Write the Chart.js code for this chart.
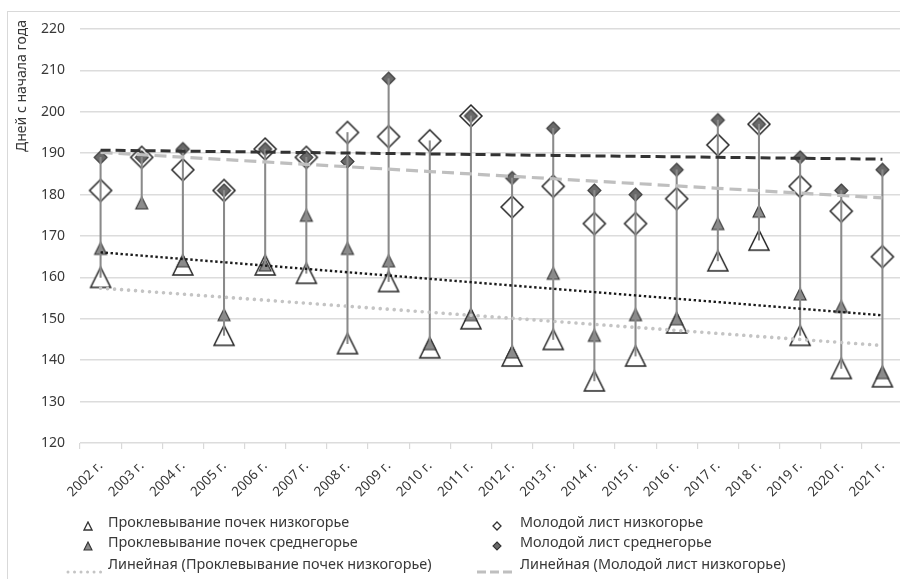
<!DOCTYPE html>
<html>
<head>
<meta charset="utf-8">
<script src="https://cdn.jsdelivr.net/npm/chart.js@4.4.0/dist/chart.umd.min.js"></script>
<style>
  html, body { margin: 0; padding: 0; width: 900px; height: 579px; overflow: hidden; background: #fff; }
  #frame { position: absolute; left: 7px; top: 11px; width: 1000px; height: 1000px; border: 1px solid #d9d9d9; box-sizing: border-box; }
  #wrap { position: absolute; left: 0; top: 0; width: 930px; height: 579px; }
  .lg { position: absolute; font-family: "Noto Sans", sans-serif; font-size: 14.4px; color: #383838; line-height: 20px; white-space: nowrap; }
  .mk { position: absolute; }
</style>
</head>
<body>
<div id="frame"></div>
<div id="wrap"><canvas id="c" width="930" height="579"></canvas></div>
<div id="legend"></div>
<script>
// ---- data ----
const years = ['2002 г.','2003 г.','2004 г.','2005 г.','2006 г.','2007 г.','2008 г.','2009 г.','2010 г.','2011 г.',
               '2012 г.','2013 г.','2014 г.','2015 г.','2016 г.','2017 г.','2018 г.','2019 г.','2020 г.','2021 г.'];
const budsLow  = [160, null, 163, 146, 163, 161, 144, 159, 143, 150, 141, 145, 135, 141, 149, 164, 169, 146, 138, 136];
const budsMid  = [167, 178, 164, 151, 163, 175, 167, 164, 144, 151, 142, 161, 146, 151, 150, 173, 176, 156, 153, 137];
const leafLow  = [181, 189, 186, 181, 191, 189, 195, 194, 193, 199, 177, 182, 173, 173, 179, 192, 197, 182, 176, 165];
const leafMid  = [189, 189, 191, 181, 191, 189, 188, 208, null, 199, 184, 196, 181, 180, 186, 198, 197, 189, 181, 186];
const yTicks   = [120, 130, 140, 150, 160, 170, 180, 190, 200, 210, 220];
const yTitle   = 'Дней с начала года';
const names = {
  budsLow: 'Проклевывание почек низкогорье',
  budsMid: 'Проклевывание почек среднегорье',
  leafLow: 'Молодой лист низкогорье',
  leafMid: 'Молодой лист среднегорье',
  trendBudsLow: 'Линейная (Проклевывание почек низкогорье)',
  trendLeafLow: 'Линейная (Молодой лист низкогорье)'
};

// linear trend (least squares over category index, blanks skipped) — as the spreadsheet does
function linTrend(arr) {
  const pts = arr.map((v, i) => [i + 1, v]).filter(p => p[1] !== null);
  const n = pts.length;
  const mx = pts.reduce((s, p) => s + p[0], 0) / n;
  const my = pts.reduce((s, p) => s + p[1], 0) / n;
  let sxy = 0, sxx = 0;
  pts.forEach(p => { sxy += (p[0] - mx) * (p[1] - my); sxx += (p[0] - mx) ** 2; });
  const b = sxy / sxx, a = my - b * mx;
  return arr.map((_, i) => a + b * (i + 1));
}
// high-low lines: from lowest to highest value of each year
const hiLo = years.map((_, i) => {
  const v = [budsLow[i], budsMid[i], leafLow[i], leafMid[i]].filter(x => x !== null);
  return [Math.min(...v), Math.max(...v)];
});

// ---- markers ----
function marker(kind, s, fill, stroke, lw) {
  const pad = 3, cv = document.createElement('canvas');
  cv.width = cv.height = Math.ceil(s + pad * 2);
  const c = cv.getContext('2d'), m = cv.width / 2, h = s / 2;
  c.beginPath();
  if (kind === 'tri') { c.moveTo(m - h, m + h); c.lineTo(m, m - h); c.lineTo(m + h, m + h); }
  else { c.moveTo(m, m - h); c.lineTo(m + h, m); c.lineTo(m, m + h); c.lineTo(m - h, m); }
  c.closePath();
  c.fillStyle = fill; c.fill();
  c.lineWidth = lw; c.strokeStyle = stroke; c.lineJoin = 'miter'; c.stroke();
  return cv;
}
const mA = marker('tri', 20, '#ffffff', '#262626', 1.5);
const mB = marker('tri', 12, '#8c8c8c', '#333333', 1.1);
const mC = marker('dia', 22, '#ffffff', '#262626', 1.5);
const mD = marker('dia', 13, '#6a6a6a', '#3a3a3a', 1.1);

const pointSet = (label, data, style, order) => ({
  type: 'line', label, data, order, showLine: false,
  pointStyle: style, pointRadius: 10, pointHoverRadius: 10
});
const trendSet = (label, data, color, width, dash, cap, order) => ({
  type: 'line', label, data, order, borderColor: color, borderWidth: width,
  borderDash: dash, borderCapStyle: cap, pointRadius: 0, fill: false, tension: 0
});

const yTitlePlugin = {
  id: 'yTitle',
  afterDraw(chart) {
    const c = chart.ctx;
    c.save();
    c.translate(22, 86);
    c.rotate(-Math.PI / 2);
    c.font = '14px "Noto Sans"';
    c.fillStyle = '#383838';
    c.textAlign = 'center';
    c.textBaseline = 'middle';
    c.fillText(yTitle, 0, 0);
    c.restore();
  }
};

new Chart(document.getElementById('c'), {
  data: {
    labels: years,
    datasets: [
      trendSet('trendLeafMid', linTrend(leafMid), '#333333', 3, [10, 5], 'butt', 0),
      trendSet(names.trendLeafLow, linTrend(leafLow), '#bfbfbf', 3.2, [12, 6], 'butt', 0),
      trendSet('trendBudsMid', linTrend(budsMid), '#1a1a1a', 2.4, [2.4, 2.6], 'butt', 0),
      trendSet(names.trendBudsLow, linTrend(budsLow), '#c4c4c4', 3.6, [0.01, 7], 'round', 0),
      { type: 'bar', label: 'hilo', data: hiLo, order: 1, backgroundColor: '#8a8a8a', barThickness: 1.4, borderWidth: 0 },
      pointSet(names.leafMid, leafMid, mD, 2),
      pointSet(names.budsMid, budsMid, mB, 3),
      pointSet(names.leafLow, leafLow, mC, 4),
      pointSet(names.budsLow, budsLow, mA, 5)
    ]
  },
  options: {
    responsive: false,
    animation: false,
    events: [],
    layout: { padding: { top: 29, left: 0, right: 27, bottom: 0 } },
    plugins: { legend: { display: false }, tooltip: { enabled: false } },
    scales: {
      x: {
        type: 'category',
        offset: true,
        grid: { offset: true, drawOnChartArea: false, drawTicks: true, tickLength: 6, color: '#d9d9d9', lineWidth: 1.2 },
        border: { display: false },
        ticks: { minRotation: 45, maxRotation: 45, autoSkip: false, padding: 9, color: '#383838',
                 font: { family: 'Noto Sans', size: 13.5 } },
        afterFit(s) { s.height = 136; }
      },
      y: {
        min: 120, max: 220,
        afterBuildTicks(s) { s.ticks = yTicks.map(v => ({ value: v })); },
        grid: { drawTicks: false, color: '#dcdcdc', lineWidth: 1.5 },
        border: { display: false },
        ticks: { padding: 15, color: '#383838', font: { family: 'Noto Sans', size: 14 } },
        afterFit(s) { s.width = 80; }
      }
    }
  },
  plugins: [yTitlePlugin]
});

// ---- legend (HTML) ----
const L = document.getElementById('legend');
function addText(txt, x, yc) {
  const d = document.createElement('div');
  d.className = 'lg'; d.textContent = txt;
  d.style.left = x + 'px'; d.style.top = (yc - 10) + 'px';
  L.appendChild(d);
}
function addSvg(x, y, w, h, inner) {
  const d = document.createElement('div');
  d.className = 'mk';
  d.style.left = x + 'px'; d.style.top = y + 'px';
  d.innerHTML = '<svg width="' + w + '" height="' + h + '" xmlns="http://www.w3.org/2000/svg">' + inner + '</svg>';
  L.appendChild(d);
}
const r1 = 522, r2 = 542, r3 = 564;
addSvg(83, r1 - 5, 10, 10, '<polygon points="1,9 5,1 9,9" fill="#fff" stroke="#333" stroke-width="1.3"/>');
addText(names.budsLow, 108, r1);
addSvg(83, r2 - 5, 10, 10, '<polygon points="1,9 5,1 9,9" fill="#8c8c8c" stroke="#333" stroke-width="1.1"/>');
addText(names.budsMid, 108, r2);
addSvg(66, r3 - 3, 42, 6, '<line x1="2" y1="3" x2="40" y2="3" stroke="#c4c4c4" stroke-width="3" stroke-linecap="round" stroke-dasharray="0.01 6.5"/>');
addText(names.trendBudsLow, 108, r3);
addSvg(492, r1 - 5, 10, 10, '<polygon points="5,1 9,5 5,9 1,5" fill="#fff" stroke="#333" stroke-width="1.3"/>');
addText(names.leafLow, 520, r1);
addSvg(492, r2 - 5, 10, 10, '<polygon points="5,1 9,5 5,9 1,5" fill="#6a6a6a" stroke="#333" stroke-width="1.1"/>');
addText(names.leafMid, 520, r2);
addSvg(476, r3 - 3, 40, 6, '<line x1="1" y1="3" x2="38" y2="3" stroke="#bfbfbf" stroke-width="3" stroke-dasharray="9 4"/>');
addText(names.trendLeafLow, 520, r3);
</script>
</body>
</html>
